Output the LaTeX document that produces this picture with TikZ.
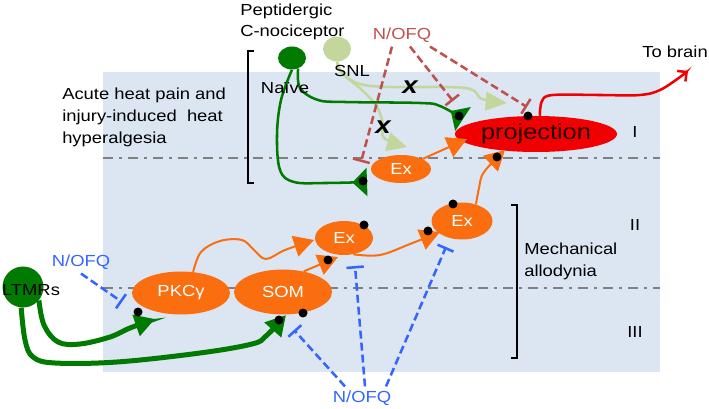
\documentclass[tikz,border=0pt]{standalone}
\usepackage{fontspec}
\setmainfont{Liberation Sans}[FakeStretch=1.15]
\usetikzlibrary{shapes.geometric,arrows.meta}

\definecolor{bgblue}{RGB}{220,230,242}
\definecolor{dkgreen}{RGB}{0,122,0}
\definecolor{ltgreen}{RGB}{195,214,155}
\definecolor{exorange}{RGB}{250,110,15}
\definecolor{projred}{RGB}{240,0,0}
\definecolor{nofqred}{RGB}{192,80,77}
\definecolor{nofqblue}{RGB}{51,102,255}
\definecolor{laminagray}{RGB}{128,128,128}

\begin{document}
\begin{tikzpicture}[x=0.75pt, y=-0.75pt, font=\fontsize{12}{14}\selectfont,
    txt/.style={inner sep=0pt},
    body/.style={ellipse, inner sep=0pt},
    neuron/.style={ellipse, inner sep=0pt, fill=exorange, text=white},
    dot/.style={circle, fill=black, inner sep=0pt, minimum size=6.75pt},
    lamina/.style={laminagray, line width=1.9pt, dash pattern=on 7.5pt off 4.5pt on 2.25pt off 4.5pt},
    axon/.style={line width=1.9pt},
    excite/.style={-{Triangle[length=15pt, width=16pt]}},
    contact/.style={-{Triangle[reversed, length=11pt, width=21pt]}},
    inhibit/.style={line width=1.9pt, dash pattern=on 6pt off 3pt, -{Bar[width=13pt]}}]
				\useasboundingbox (0,0) rectangle (709,409);
				% 1. dorsal horn background and laminae
				\fill[bgblue] (103,72) rectangle (660,372);
				\draw[lamina] (103,158) -- (660,158);
				\draw[lamina] (103,288) -- (660,288);
				
				% brackets
				\draw[line width=1.9pt] (254,51) -- (248,51) -- (248,183) -- (254,183);
				\draw[line width=1.9pt] (511,205) -- (517,205) -- (517,358) -- (511,358);
				
				% 2. cells
				\node[body, fill=dkgreen, minimum width=21pt, minimum height=17.25pt] (naive) at (292,58) {};
				\node[body, fill=ltgreen, minimum width=21pt, minimum height=18.75pt] (snl) at (337,49) {};
				\node[body, fill=dkgreen, minimum size=30.75pt] (ltmr) at (23,287) {};
				\node[body, fill=projred, text=black!85!red, minimum width=121.5pt, minimum height=27pt, font=\fontsize{16.5}{18}\selectfont] (proj) at (536,134) {projection};
				\node[neuron, minimum width=45pt, minimum height=21pt] (exA) at (401,169) {Ex};
				\node[neuron, minimum width=43.5pt, minimum height=25.5pt] (exB) at (344,238) {Ex};
				\node[neuron, minimum width=45.75pt, minimum height=27.75pt] (exC) at (462,221) {Ex};
				\node[neuron, minimum width=73.5pt, minimum height=32.25pt] (pkc) at (181,293) {PKCγ};
				\node[neuron, minimum width=73.5pt, minimum height=33.75pt] (som) at (283,292) {SOM};
				
				% N/OFQ sources and inhibited sites
				\node[inner sep=3pt, text=nofqred] (nofqR) at (402,35) {N/OFQ};
				\node[inner sep=3pt, text=nofqblue] (nofqL) at (81,262) {N/OFQ};
				\node[inner sep=3pt, text=nofqblue] (nofqB) at (362,398) {N/OFQ};
				\coordinate (iExA) at (361,162);
				\coordinate (iSyn) at (453,101);
				\coordinate (iProj) at (527,107);
				\coordinate (iPkc) at (122,302);
				\coordinate (iSom) at (294,330);
				\coordinate (iExB) at (355,266);
				\coordinate (iExC) at (446,247);
				
				% 3. primary afferents
				% SNL (blocked)
				\draw[ltgreen, axon, -{Triangle[length=16pt, width=14pt]}] plot[smooth, tension=0.6] coordinates {(snl.south) (343,74) (360,84) (390,87) (465,88) (482,99) (507,103)};
				\draw[ltgreen, axon, -{Triangle[length=15pt, width=14pt]}] plot[smooth, tension=0.6] coordinates {(snl.south) (343,74) (362,90) (377,107) (383,124) (384,138) (407,147)};
				% naive peptidergic
				\draw[dkgreen, axon, contact] plot[smooth, tension=0.6] coordinates {(naive.south) (281,100) (277,135) (280,170) (294,182) (325,183) (367,182)};
				\draw[dkgreen, axon, contact] plot[smooth, tension=0.6] coordinates {(naive.-60) (300,88) (318,100) (345,102) (420,103) (440,106) (463,119)};
				% LTMRs
				\draw[dkgreen, line width=3.75pt, excite] plot[smooth, tension=0.6] coordinates {(ltmr.-40) (44,325) (58,342) (80,344) (110,337) (130,328) (155,319)};
				\draw[dkgreen, line width=3.75pt, excite] plot[smooth, tension=0.6] coordinates {(ltmr.-95) (25,340) (33,357) (55,363) (117,362) (200,353) (252,344) (266,336) (286,315)};
				
				% 4. interneurons
				\draw[exorange, line width=1.5pt, excite] (exA.25) -- (467,139);
				\draw[exorange, line width=1.5pt, excite] plot[smooth, tension=0.6] coordinates {(exC.50) (479,188) (484,172) (505,150)};
				\draw[exorange, line width=1.5pt, excite] plot[smooth, tension=0.6] coordinates {(pkc.60) (201,252) (220,241) (242,240) (254,250) (266,259) (285,250) (314,240)};
				\draw[exorange, line width=1.5pt, excite] (som.45) -- (338,257);
				\draw[exorange, line width=1.5pt, excite] plot[smooth, tension=0.6] coordinates {(exB.-60) (380,255) (410,244) (440,232)};
				
				% 5. N/OFQ inhibition
				\draw[nofqred, inhibit] ([xshift=-7.5pt]nofqR.south) -- (iExA);
				\draw[nofqred, inhibit] ([xshift=6pt]nofqR.south) -- (iSyn);
				\draw[nofqred, inhibit] ([xshift=21pt]nofqR.south) -- (iProj);
				\draw[nofqblue, inhibit] (nofqL.south) -- (iPkc);
				\draw[nofqblue, inhibit] ([xshift=-12.75pt]nofqB.north) -- (iSom);
				\draw[nofqblue, inhibit] ([xshift=2.25pt]nofqB.north) -- (iExB);
				\draw[nofqblue, inhibit] ([xshift=18pt]nofqB.north) -- (iExC);
				
				% output
				\draw[projred, axon, -{Straight Barb[length=5pt, width=10pt]}] plot[smooth, tension=0.6] coordinates {(proj.78) (542,101) (553,95) (600,95) (640,95) (662,89) (688,71)};
				
				% 6. contacts
				\node[dot] (d1) at (459,116) {};
				\node[dot] (d2) at (528,116) {};
				\node[dot] (d3) at (363,181) {};
				\node[dot] (d4) at (497,157) {};
				\node[dot] (d5) at (364,225) {};
				\node[dot] (d6) at (328,260) {};
				\node[dot] (d7) at (428,231) {};
				\node[dot] (d8) at (453,204) {};
				\node[dot] (d9) at (138,312) {};
				\node[dot] (d10) at (279,320) {};
				\node[dot] (d11) at (303,313) {};
				
				% 7. labels
				\node[txt, font=\fontsize{18}{18}\bfseries\itshape] (xa) at (410,87) {x};
				\node[txt, font=\fontsize{18}{18}\bfseries\itshape] (xb) at (383,127) {x};
				\node[txt, anchor=west, align=left, font=\fontsize{12}{15.75}\selectfont] (peptid) at (240,22) {Peptidergic\\C-nociceptor};
				\node[txt, anchor=west, align=left, font=\fontsize{12}{16.5}\selectfont] (acute) at (62,117) {Acute heat pain and\\injury-induced\ \ heat\\hyperalgesia};
				\node[txt] (naivetxt) at (285,88) {Naïve};
				\node[txt] (snltxt) at (352,71) {SNL};
				\node[txt] (ltmrtxt) at (31,290) {LTMRs};
				\node[txt] (brain) at (675,52) {To brain};
				\node[txt, anchor=west, align=left, font=\fontsize{12}{16.5}\selectfont] (mech) at (524,261) {Mechanical\\allodynia};
				\node[txt] (lamI) at (635,132) {I};
				\node[txt] (lamII) at (635,225) {II};
				\node[txt] (lamIII) at (635,332) {III};
\end{tikzpicture}
\end{document}
